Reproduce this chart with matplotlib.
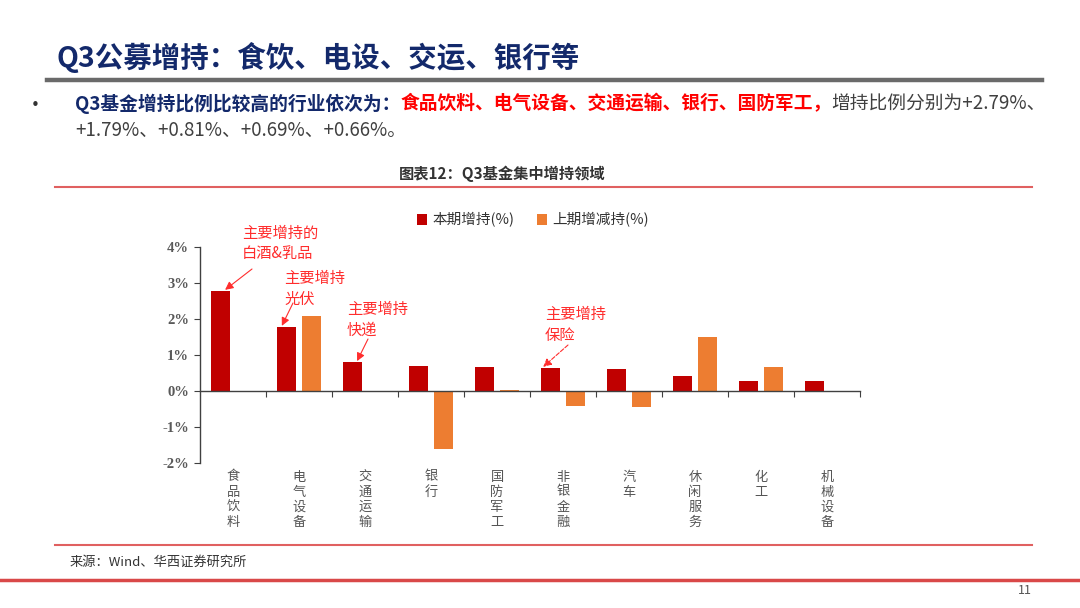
import matplotlib
matplotlib.use("Agg")
import matplotlib.pyplot as plt
from matplotlib.lines import Line2D
import numpy as np

plt.rcParams['font.family'] = ['Noto Sans CJK SC', 'DejaVu Sans']

# data
categories = ['食品饮料', '电气设备', '交通运输', '银行', '国防军工',
              '非银金融', '汽车', '休闲服务', '化工', '机械设备']
this_q = [2.79, 1.79, 0.81, 0.69, 0.66, 0.65, 0.62, 0.43, 0.27, 0.27]
last_q = [-0.04, 2.08, 0.0, -1.60, 0.03, -0.42, -0.44, 1.50, 0.67, 0.0]
yticks = [-2, -1, 0, 1, 2, 3, 4]

RED = '#C00000'
ORANGE = '#ED7D31'
NAVY = '#13296B'
ANN = '#FF2D2D'
W, H = 1080, 608


def fx(x):
    return x / W


def fy(y):
    return 1 - y / H


fig = plt.figure(figsize=(10.8, 6.08), dpi=100)
fig.patch.set_facecolor('white')

# page header
fig.text(fx(56), fy(57), 'Q3公募增持：食饮、电设、交运、银行等', fontsize=20.5,
         fontweight='bold', color=NAVY, va='center', ha='left')
fig.add_artist(Line2D([fx(47), fx(1042)], [fy(80), fy(80)], color='#6A6A6A', lw=3.2))

# bullet text with mixed colours
fig.text(fx(35), fy(106), '•', fontsize=15, color='#333333', va='center', ha='center')
renderer = fig.canvas.get_renderer()
segments = [('Q3基金增持比例比较高的行业依次为：', NAVY, 'bold'),
            ('食品饮料、电气设备、交通运输、银行、国防军工，', '#FF0000', 'bold'),
            ('增持比例分别为+2.79%、', '#404040', 'normal')]
x = 75
for txt, col, wt in segments:
    t = fig.text(fx(x), fy(104), txt, fontsize=13.5, color=col, fontweight=wt,
                 va='center', ha='left')
    bb = t.get_window_extent(renderer)
    x += bb.width
fig.text(fx(75), fy(130), '+1.79%、+0.81%、+0.69%、+0.66%。', fontsize=13.5,
         color='#404040', va='center', ha='left')

# chart title and frame lines
fig.text(fx(502), fy(174), '图表12：Q3基金集中增持领域', fontsize=11,
         fontweight='bold', color='#333333', va='center', ha='center')
fig.add_artist(Line2D([fx(55), fx(1032)], [fy(187), fy(187)], color='#E06060', lw=1.5))
fig.add_artist(Line2D([fx(55), fx(1032)], [fy(545), fy(545)], color='#E06060', lw=1.5))
fig.text(fx(70), fy(562), '来源：Wind、华西证券研究所', fontsize=9.5, style='italic',
         color='#333333', va='center', ha='left')
fig.add_artist(Line2D([0, 1], [fy(580), fy(580)], color='#D94848', lw=2.5))
fig.text(fx(1025), fy(591), '11', fontsize=9, color='#555555', va='center', ha='center')

# chart
ax = fig.add_axes([fx(200), fy(463), fx(860) - fx(200), (463 - 247) / H])
ind = np.arange(len(categories))
bw = 0.30
ax.bar(ind - 0.19, this_q, width=bw, color=RED, label='本期增持(%)')
ax.bar(ind + 0.19, last_q, width=bw, color=ORANGE, label='上期增减持(%)')

ax.set_xlim(-0.5, len(categories) - 0.5)
ax.set_ylim(-2, 4)
ax.set_yticks(yticks)
ax.set_yticklabels([f'{v}%' for v in yticks], fontfamily='Liberation Serif',
                   fontweight='bold', fontsize=10.5, color='#595959')
ax.set_xticks(ind + 0.5)
ax.set_xticklabels([])
ax.spines['bottom'].set_position(('data', 0))
ax.spines['top'].set_visible(False)
ax.spines['right'].set_visible(False)
for s in ('left', 'bottom'):
    ax.spines[s].set_color('#404040')
    ax.spines[s].set_linewidth(1)
ax.tick_params(axis='x', direction='out', length=4, color='#404040')
ax.tick_params(axis='y', direction='out', length=4, color='#404040', pad=4)

for i, name in enumerate(categories):
    ax.text(i, -0.035, '\n'.join(name), transform=ax.get_xaxis_transform(),
            ha='center', va='top', fontsize=9.5, color='#555555', linespacing=1.2)

ax.legend(ncol=2, frameon=False, loc='center',
          bbox_to_anchor=(fx(533), fy(220)), bbox_transform=fig.transFigure,
          handlelength=0.7, handleheight=0.7, handletextpad=0.4, columnspacing=1.5,
          prop={'size': 10.5})
for t in ax.get_legend().get_texts():
    t.set_color('#333333')

# annotations
notes = [(0, '主要增持的\n白酒&乳品', (242, 243), (252, 269), -0.12, '-'),
         (1, '主要增持\n光伏', (284, 289), (293, 303), -0.26, '-'),
         (2, '主要增持\n快递', (347, 320), (368, 339), -0.12, '-'),
         (5, '主要增持\n保险', (545, 325), (568, 345), -0.30, '--')]
for i, txt, (tx, ty), (ax0, ay0), dx, ls in notes:
    fig.text(fx(tx), fy(ty), txt, fontsize=11, color=ANN, ha='left', va='center',
             linespacing=1.25)
    ax.annotate('', xy=(i + dx, this_q[i] + 0.02), xycoords='data',
                xytext=(ax0, H - ay0), textcoords='figure pixels',
                arrowprops=dict(arrowstyle='-|>', color=ANN, lw=0.8, ls=ls,
                                mutation_scale=12, shrinkA=0, shrinkB=0))

fig.savefig('out.png', dpi=100, facecolor='white')
